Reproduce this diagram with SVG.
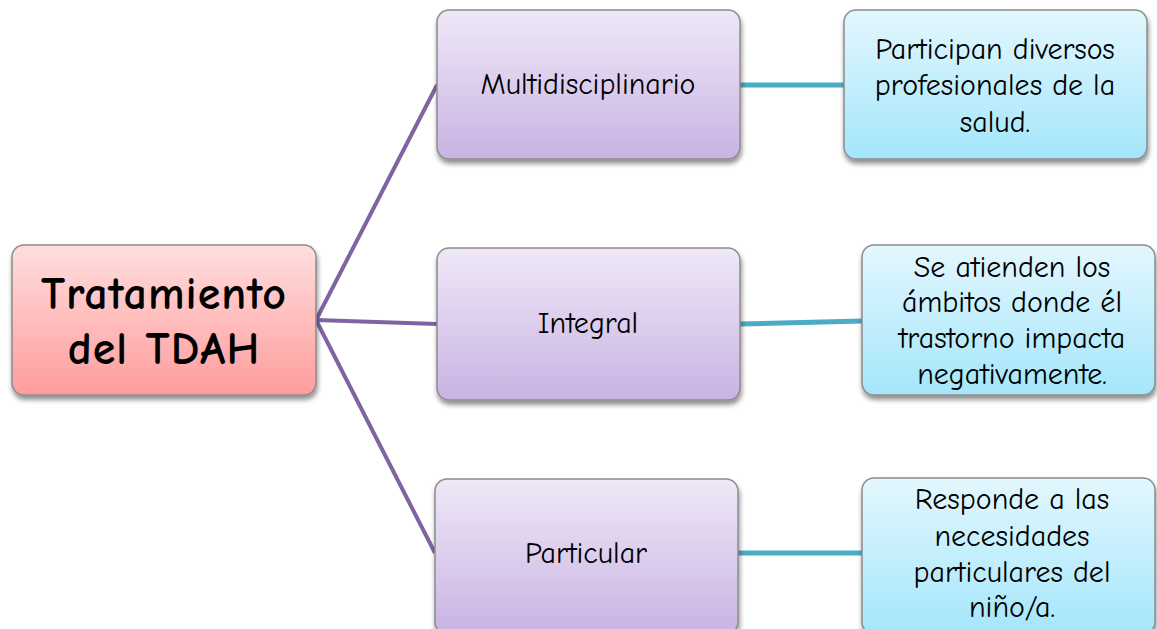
<svg xmlns="http://www.w3.org/2000/svg" width="1157" height="629" viewBox="0 0 1157 629">
  <defs>
    <linearGradient id="gRoot" x1="0" y1="0" x2="0" y2="1">
      <stop offset="0" stop-color="#ffdede"/>
      <stop offset="1" stop-color="#ff9c9c"/>
    </linearGradient>
    <linearGradient id="gMid" x1="0" y1="0" x2="0" y2="1">
      <stop offset="0" stop-color="#efe8f7"/>
      <stop offset="1" stop-color="#c9b3e3"/>
    </linearGradient>
    <linearGradient id="gLeaf" x1="0" y1="0" x2="0" y2="1">
      <stop offset="0" stop-color="#e3f7fe"/>
      <stop offset="1" stop-color="#a4e6fb"/>
    </linearGradient>
    <filter id="shadow" x="-10%" y="-10%" width="120%" height="130%">
      <feGaussianBlur in="SourceAlpha" stdDeviation="2.5"/>
      <feOffset dx="1" dy="4" result="b"/>
      <feComponentTransfer><feFuncA type="linear" slope="0.45"/></feComponentTransfer>
      <feMerge><feMergeNode/><feMergeNode in="SourceGraphic"/></feMerge>
    </filter>
  </defs>
  <style>
    .box { stroke: #8c8c8c; stroke-width: 1.5; filter: url(#shadow); }
    .root { fill: url(#gRoot); }
    .mid { fill: url(#gMid); }
    .leaf { fill: url(#gLeaf); }
    text { font-family: "Comic Sans MS", "Comic Neue", "Open Sans", "Liberation Sans", sans-serif; fill: #000; text-anchor: middle; }
    .t-root { font-size: 46px; font-weight: bold; letter-spacing: 1px; }
    .t-mid { font-size: 30px; }
    .t-leaf { font-size: 30px; }
    .c-purple { stroke: #8064a2; stroke-width: 4; fill: none; }
    .c-teal { stroke: #4bacc6; stroke-width: 5; fill: none; }
  </style>

  <rect width="1157" height="629" fill="#ffffff"/>

  <g id="connectors">
    <line class="c-purple" x1="316" y1="320" x2="437" y2="85"/>
    <line class="c-purple" x1="316" y1="320" x2="437" y2="324"/>
    <line class="c-purple" x1="316" y1="320" x2="435" y2="553"/>
    <line class="c-teal" x1="740" y1="85" x2="844" y2="85"/>
    <line class="c-teal" x1="740" y1="324" x2="862" y2="321"/>
    <line class="c-teal" x1="738" y1="553" x2="862" y2="553"/>
  </g>

  <g id="root">
    <rect class="box root" x="12" y="245" width="304" height="150" rx="12"/>
    <text class="t-root" x="164" y="309">Tratamiento</text>
    <text class="t-root" x="164" y="364">del TDAH</text>
  </g>

  <g id="multidisciplinario">
    <rect class="box mid" x="437" y="10" width="303" height="149" rx="12"/>
    <text class="t-mid" x="588" y="94">Multidisciplinario</text>
  </g>

  <g id="integral">
    <rect class="box mid" x="437" y="248" width="303" height="152" rx="12"/>
    <text class="t-mid" x="588" y="333">Integral</text>
  </g>

  <g id="particular">
    <rect class="box mid" x="435" y="479" width="303" height="155" rx="12"/>
    <text class="t-mid" x="586" y="563">Particular</text>
  </g>

  <g id="profesionales">
    <rect class="box leaf" x="844" y="10" width="303" height="149" rx="12"/>
    <text class="t-leaf" x="995" y="59">Participan diversos</text>
    <text class="t-leaf" x="995" y="95">profesionales de la</text>
    <text class="t-leaf" x="995" y="132">salud.</text>
  </g>

  <g id="ambitos">
    <rect class="box leaf" x="862" y="245" width="293" height="150" rx="12"/>
    <text class="t-leaf" x="1012" y="277">Se atienden los</text>
    <text class="t-leaf" x="1012" y="312">ámbitos donde él</text>
    <text class="t-leaf" x="1012" y="348">trastorno impacta</text>
    <text class="t-leaf" x="1012" y="384">negativamente.</text>
  </g>

  <g id="necesidades">
    <rect class="box leaf" x="862" y="478" width="293" height="156" rx="12"/>
    <text class="t-leaf" x="1012" y="509">Responde a las</text>
    <text class="t-leaf" x="1012" y="546">necesidades</text>
    <text class="t-leaf" x="1012" y="582">particulares del</text>
    <text class="t-leaf" x="1012" y="617">niño/a.</text>
  </g>
</svg>
